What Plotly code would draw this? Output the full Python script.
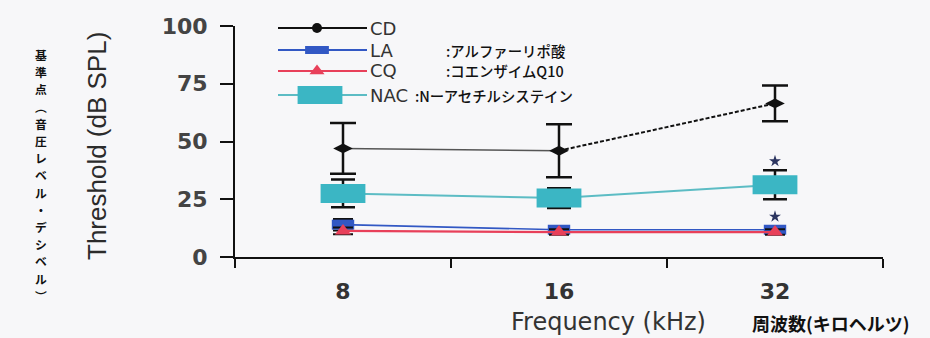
import plotly.graph_objects as go

# ---- data -------------------------------------------------------------
freq_labels = ["8", "16", "32"]

cd_mean = [47.0, 46.0, 66.5]
cd_err = [11.0, 11.5, 7.7]

la_mean = [14.0, 11.8, 11.8]
la_err = [2.5, 1.5, 1.5]

cq_mean = [11.3, 10.8, 10.8]
cq_err = [1.5, 1.2, 1.2]

nac_mean = [27.5, 25.5, 31.3]
nac_err = [6.0, 4.3, 6.3]

sig_freq = ["32", "32"]
sig_y = [41.5, 17.5]

y_ticks = [0, 25, 50, 75, 100]

series_names = ["CD", "LA", "CQ", "NAC"]
series_notes = ["", ":アルファーリポ酸", ":コエンザイムQ10", ":Nーアセチルシステイン"]

# ---- styling ----------------------------------------------------------
W, H = 930, 338
L, R, T, B = 235, 883, 26, 257          # plot area in page pixels

C_CD = "#111111"
C_LA = "#3258c4"
C_CQ = "#e8405a"
C_NAC = "#3bb6c4"
C_NAC_LINE = "#5cbcc4"
TXT = "#333333"
BG = "#f7f7f9"


def px(x):
    return (x - L) / (R - L)


def py(y):
    return (B - y) / (B - T)


err_style = dict(type="data", color="#111111", thickness=2.5, width=12)

fig = go.Figure()

# CD: solid segment 8 -> 16, dashed segment 16 -> 32
fig.add_trace(go.Scatter(x=freq_labels[:2], y=cd_mean[:2], mode="lines",
                         line=dict(color="#555555", width=1.6), hoverinfo="skip"))
fig.add_trace(go.Scatter(x=freq_labels[1:], y=cd_mean[1:], mode="lines",
                         line=dict(color="#111111", width=2, dash="4px,2px"),
                         hoverinfo="skip"))

# NAC: wide rectangles drawn with a thick horizontal line symbol
fig.add_trace(go.Scatter(
    x=freq_labels, y=nac_mean, mode="lines+markers", name="NAC",
    line=dict(color=C_NAC_LINE, width=2),
    marker=dict(symbol="line-ew", size=32, color=C_NAC,
                line=dict(color=C_NAC, width=19)),
    error_y=dict(array=nac_err, **err_style)))

# LA
fig.add_trace(go.Scatter(
    x=freq_labels, y=la_mean, mode="lines+markers", name="LA",
    line=dict(color=C_LA, width=1.6),
    marker=dict(symbol="line-ew", size=16, color=C_LA,
                line=dict(color=C_LA, width=10)),
    error_y=dict(array=la_err, **dict(err_style, width=10, thickness=2))))

# CQ
fig.add_trace(go.Scatter(
    x=freq_labels, y=cq_mean, mode="lines+markers", name="CQ",
    line=dict(color=C_CQ, width=2.2),
    marker=dict(symbol="triangle-up", size=14, color=C_CQ),
    error_y=dict(array=cq_err, **dict(err_style, width=10, thickness=2))))

# CD markers and error bars
fig.add_trace(go.Scatter(
    x=freq_labels, y=cd_mean, mode="markers", name="CD",
    marker=dict(symbol="diamond-wide", size=14, color=C_CD),
    error_y=dict(array=cd_err, **dict(err_style, width=13))))

# significance marks
fig.add_trace(go.Scatter(
    x=sig_freq, y=sig_y, mode="markers",
    marker=dict(symbol="star", size=9, color="#2c3560"), hoverinfo="skip"))

# ---- hand-placed legend (overlay axes in page pixels) ------------------
leg_rows = [28, 50, 71, 95]
leg_x0, leg_x1 = 278, 367
leg_marker_x = [317, 317, 317, 320]
leg_line_colors = [C_CD, C_LA, C_CQ, C_NAC_LINE]
leg_markers = [
    dict(symbol="circle", size=10, color=C_CD),
    dict(symbol="line-ew", size=17, color=C_LA, line=dict(color=C_LA, width=8)),
    dict(symbol="triangle-up", size=13, color=C_CQ),
    dict(symbol="line-ew", size=32, color=C_NAC, line=dict(color=C_NAC, width=18)),
]
for row, mx, lc, mk in zip(leg_rows, leg_marker_x, leg_line_colors, leg_markers):
    fig.add_trace(go.Scatter(x=[leg_x0, leg_x1], y=[row, row], mode="lines",
                             line=dict(color=lc, width=1.8), xaxis="x2", yaxis="y2",
                             hoverinfo="skip", cliponaxis=False))
    fig.add_trace(go.Scatter(x=[mx], y=[row], mode="markers", marker=mk,
                             xaxis="x2", yaxis="y2", hoverinfo="skip", cliponaxis=False))

annotations = []
for name, note, row in zip(series_names, series_notes, leg_rows):
    annotations.append(dict(
        text=name, x=px(369), y=py(row), xref="paper", yref="paper",
        xanchor="left", yanchor="middle", showarrow=False, borderpad=0,
        font=dict(family="DejaVu Sans", size=18, color=TXT)))
    if note:
        nx = 414 if name == "NAC" else 445
        annotations.append(dict(
            text=note, x=px(nx), y=py(row), xref="paper", yref="paper",
            xanchor="left", yanchor="middle", showarrow=False, borderpad=0,
            font=dict(family="Noto Sans CJK JP", size=14.4, color="#111111",
                      weight=500)))

# axis titles
annotations.append(dict(
    text="Threshold (dB SPL)", x=px(97), y=py(146), xref="paper", yref="paper",
    textangle=-90, showarrow=False, xanchor="center", yanchor="middle",
    font=dict(family="Liberation Sans, Arial, sans-serif", size=26, color="#2b2b2b")))
annotations.append(dict(
    text="Frequency (kHz)", x=px(608), y=py(322), xref="paper", yref="paper",
    showarrow=False, xanchor="center", yanchor="middle", borderpad=0,
    font=dict(family="DejaVu Sans", size=24, color=TXT)))
annotations.append(dict(
    text="周波数(キロヘルツ)", x=px(831), y=py(323), xref="paper", yref="paper",
    showarrow=False, xanchor="center", yanchor="middle", borderpad=0,
    font=dict(family="Noto Sans CJK JP", size=18, color="#111111", weight="bold")))

# vertical Japanese caption on the far left, one glyph per annotation
v_chars = ["基", "準", "点", "︵", "音", "圧", "レ", "ベ", "ル", "・", "デ", "シ", "ベ", "ル", "︶"]
v_top, v_step = 54.5, 17.2
for i, ch in enumerate(v_chars):
    annotations.append(dict(
        text=ch, x=px(41), y=py(v_top + i * v_step), xref="paper", yref="paper",
        showarrow=False, xanchor="center", yanchor="middle", borderpad=0,
        font=dict(family="Noto Sans CJK JP", size=11.8, color="#111111", weight="bold")))

fig.update_layout(
    width=W, height=H,
    margin=dict(l=L, r=W - R, t=T, b=H - B),
    paper_bgcolor=BG, plot_bgcolor=BG,
    showlegend=False,
    annotations=annotations,
    xaxis=dict(
        type="category", categoryorder="array", categoryarray=freq_labels,
        range=[-0.5, 2.5], showline=True, linecolor="#111111", linewidth=2,
        ticks="outside", ticklen=9, tickwidth=2, tickcolor="#111111",
        tickson="boundaries", showgrid=False, zeroline=False,
        tickfont=dict(family="DejaVu Sans", size=22, color=TXT, weight="bold"),
        ticklabelstandoff=14),
    yaxis=dict(
        range=[0, 100], tickvals=y_ticks, showline=True, linecolor="#111111",
        linewidth=2, ticks="outside", ticklen=13, tickwidth=2, tickcolor="#111111",
        showgrid=False, zeroline=False,
        tickfont=dict(family="DejaVu Sans", size=22, color="#444444", weight="bold"),
        ticklabelstandoff=8),
    xaxis2=dict(overlaying="x", range=[L, R], visible=False, anchor="y2"),
    yaxis2=dict(overlaying="y", range=[B, T], visible=False, anchor="x2"),
)

fig.write_html("out.html")
